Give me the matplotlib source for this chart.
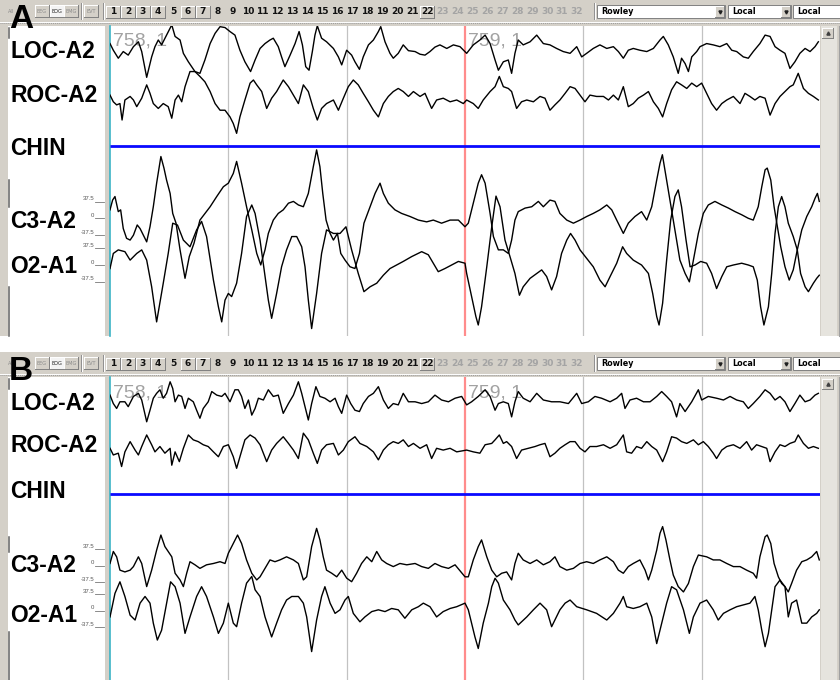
import matplotlib
matplotlib.use("Agg")
import matplotlib.pyplot as plt
from matplotlib.patches import Rectangle
from matplotlib.transforms import blended_transform_factory

# ------------------------------------------------------------------
# Sleep-study page 758 (30 s), shown twice (A: raw, B: filtered).
# Times in seconds from page start, amplitudes in microvolts.
# ------------------------------------------------------------------
PAGE_SECONDS = 30
grid_seconds = [5, 10, 20, 25]
epoch_mark_seconds = 15
epoch_labels = ["758, 1", "759, 1"]
epoch_label_seconds = [0, 15]
channel_names = ["LOC-A2", "ROC-A2", "CHIN", "C3-A2", "O2-A1"]
scale_ticks_uv = [37.5, 0, -37.5]
scale_tick_labels = ["37.5", "0", "-37.5"]
page_buttons = list(range(1, 33))
montage_names = ["Rowley", "Local", "Local"]
filter_buttons = ["All", "EEG", "EOG", "EMG", "EVT"]

chin_a = [(0, 0), (30, 0)]
chin_b = [(0, 0), (30, 0)]

loc_a = [(0.00,10),(0.14,-5),(0.35,-23),(0.56,-8),(0.77,-16),(0.99,3),(1.20,14),(1.34,-8),(1.55,-66),(1.76,-20),(1.90,3),(2.04,18),(2.18,7),(2.39,29),(2.61,52),(2.75,26),(2.96,18),(3.10,-12),(3.31,-31),(3.59,-53),(3.80,-57),(4.01,-27),(4.23,10),(4.44,33),(4.65,48),(4.86,46),(5.07,37),(5.28,29),(5.49,-5),(5.70,-31),(5.94,-53),(6.13,-27),(6.34,-1),(6.55,10),(6.76,18),(6.90,22),(7.11,3),(7.25,-20),(7.39,-42),(7.61,-16),(7.82,10),(7.99,37),(8.13,7),(8.27,-42),(8.41,-50),(8.55,-8),(8.66,29),(8.76,50),(8.94,22),(9.15,14),(9.44,-1),(9.65,-20),(9.79,-38),(10.00,-5),(10.21,-16),(10.35,-31),(10.54,-48),(10.70,-20),(10.92,7),(11.13,18),(11.34,37),(11.44,48),(11.62,14),(11.83,-12),(11.97,-23),(12.18,-12),(12.39,7),(12.61,-6),(12.89,-8),(13.10,-14),(13.31,-16),(13.52,-8),(13.73,2),(13.94,7),(14.23,-1),(14.51,7),(14.79,3),(15.07,-12),(15.35,7),(15.63,18),(15.85,29),(16.06,10),(16.27,-27),(16.41,-50),(16.62,-31),(16.83,-27),(16.97,-57),(17.11,-12),(17.25,18),(17.46,7),(17.75,14),(18.03,29),(18.31,10),(18.59,7),(18.87,-1),(19.15,-8),(19.44,-12),(19.72,3),(19.93,-20),(20.14,-12),(20.42,-1),(20.70,7),(20.99,-1),(21.27,3),(21.48,-8),(21.69,-23),(21.90,-5),(22.11,-1),(22.39,-5),(22.68,-8),(22.96,-1),(23.24,18),(23.38,26),(23.59,7),(23.80,-20),(24.01,-57),(24.15,-23),(24.30,-35),(24.44,-53),(24.58,-20),(24.79,-8),(24.93,3),(25.21,10),(25.49,7),(25.77,3),(26.06,10),(26.27,-5),(26.48,-8),(26.76,-20),(26.97,-23),(27.18,-8),(27.46,10),(27.68,29),(27.89,26),(28.10,3),(28.31,-5),(28.52,-12),(28.73,-46),(28.94,-31),(29.15,-12),(29.37,-1),(29.58,-8),(29.79,3),(29.93,14)]

roc_a = [(0.00,11),(0.14,-4),(0.28,-11),(0.42,-8),(0.51,-45),(0.63,0),(0.85,8),(0.99,0),(1.13,-15),(1.34,4),(1.55,34),(1.69,15),(1.83,-8),(2.04,-19),(2.25,-8),(2.46,-15),(2.61,-41),(2.75,0),(2.89,11),(3.03,-4),(3.17,30),(3.38,64),(3.59,64),(3.80,53),(4.01,41),(4.23,19),(4.44,-8),(4.65,-23),(4.86,-23),(5.07,-38),(5.21,-53),(5.35,-75),(5.49,-38),(5.70,0),(5.92,38),(6.06,45),(6.20,34),(6.41,19),(6.62,-19),(6.83,4),(7.04,19),(7.32,45),(7.54,30),(7.75,11),(7.96,-8),(8.17,34),(8.38,19),(8.59,-19),(8.76,-45),(8.94,-19),(9.15,-8),(9.44,0),(9.65,-23),(9.86,4),(10.07,30),(10.28,45),(10.49,34),(10.70,15),(10.92,-4),(11.13,-23),(11.34,-38),(11.55,-8),(11.76,8),(11.97,19),(12.18,26),(12.39,19),(12.61,8),(12.82,19),(13.10,8),(13.31,15),(13.59,-19),(13.80,0),(14.08,4),(14.37,-4),(14.65,0),(14.93,-8),(15.07,0),(15.35,-8),(15.56,-19),(15.77,0),(16.06,19),(16.27,30),(16.45,53),(16.62,30),(16.83,26),(16.97,19),(17.18,-19),(17.39,-4),(17.61,0),(17.89,-4),(18.17,8),(18.38,4),(18.59,-23),(18.80,-11),(19.01,0),(19.23,15),(19.44,30),(19.65,26),(19.86,11),(20.07,-4),(20.28,11),(20.56,8),(20.85,8),(21.06,0),(21.27,11),(21.48,0),(21.69,30),(21.90,-15),(22.11,-8),(22.32,4),(22.54,11),(22.75,19),(22.96,-4),(23.17,-19),(23.35,-38),(23.52,-8),(23.73,23),(23.94,41),(24.15,34),(24.37,26),(24.58,38),(24.79,30),(25.00,38),(25.21,15),(25.42,-8),(25.63,-23),(25.85,-8),(26.06,0),(26.34,8),(26.62,-8),(26.83,15),(27.04,8),(27.25,0),(27.46,8),(27.68,4),(27.89,-34),(28.10,-8),(28.31,8),(28.52,19),(28.73,30),(28.87,34),(29.08,60),(29.30,26),(29.51,15),(29.72,8),(29.93,0)]

c3_a = [(0.00,19),(0.11,41),(0.21,49),(0.35,15),(0.45,19),(0.56,-23),(0.70,-45),(0.85,-49),(0.99,-38),(1.15,-15),(1.27,-23),(1.41,-38),(1.55,-53),(1.69,-19),(1.83,26),(1.97,79),(2.15,139),(2.28,113),(2.39,86),(2.54,56),(2.65,11),(2.79,-11),(2.96,-71),(3.17,-135),(3.35,-86),(3.55,-56),(3.80,-4),(4.23,26),(4.51,49),(4.79,71),(5.00,79),(5.21,101),(5.35,128),(5.56,79),(5.77,26),(5.99,-26),(6.20,-79),(6.37,-105),(6.55,-71),(6.69,-34),(6.90,-4),(7.11,11),(7.32,19),(7.54,34),(7.75,38),(7.96,30),(8.17,26),(8.38,56),(8.59,116),(8.73,154),(8.87,116),(8.99,56),(9.13,-4),(9.30,-34),(9.44,-49),(9.61,-34),(9.75,-79),(9.93,-94),(10.14,-109),(10.35,-113),(10.54,-79),(10.73,-11),(10.99,26),(11.20,56),(11.41,79),(11.55,56),(11.76,34),(12.04,19),(12.32,11),(12.68,4),(13.03,-4),(13.38,-8),(13.66,-4),(14.01,-11),(14.37,-4),(14.72,-4),(15.00,-19),(15.14,-11),(15.35,34),(15.56,79),(15.70,98),(15.85,79),(16.06,11),(16.20,-41),(16.41,-71),(16.62,-71),(16.83,-79),(16.97,-49),(17.11,-4),(17.25,15),(17.54,23),(17.82,26),(18.10,38),(18.31,26),(18.59,41),(18.80,38),(19.01,11),(19.30,-4),(19.58,-11),(19.86,-4),(20.14,4),(20.42,11),(20.70,19),(20.99,30),(21.20,19),(21.41,-4),(21.69,-34),(21.90,-11),(22.18,4),(22.46,15),(22.68,-4),(22.89,26),(23.10,86),(23.24,124),(23.34,143),(23.52,86),(23.80,-4),(24.08,-94),(24.30,-124),(24.48,-143),(24.65,-94),(24.86,-34),(25.07,11),(25.28,30),(25.56,38),(25.85,30),(26.13,23),(26.41,15),(26.69,8),(26.97,0),(27.18,-4),(27.39,26),(27.54,71),(27.68,109),(27.77,113),(27.92,86),(28.06,26),(28.20,-19),(28.34,-64),(28.52,-109),(28.70,-139),(28.87,-116),(29.04,-71),(29.23,-26),(29.44,4),(29.65,26),(29.79,45),(29.89,56),(29.97,38)]

o2_a = [(0.00,-8),(0.14,26),(0.35,34),(0.63,30),(0.85,11),(1.13,26),(1.34,34),(1.55,11),(1.76,-49),(1.97,-128),(2.25,-41),(2.46,26),(2.65,94),(2.85,90),(3.10,56),(3.38,41),(3.66,79),(3.87,98),(4.08,64),(4.37,-34),(4.58,-94),(4.72,-128),(4.86,-79),(5.00,-64),(5.14,-71),(5.35,-41),(5.56,26),(5.77,109),(5.99,135),(6.13,116),(6.34,56),(6.55,-26),(6.69,-79),(6.83,-120),(7.04,-64),(7.25,-4),(7.46,34),(7.68,64),(7.89,64),(8.10,41),(8.24,-4),(8.38,-79),(8.52,-143),(8.73,-64),(8.94,26),(9.15,79),(9.44,71),(9.72,71),(9.97,86),(10.21,34),(10.49,-19),(10.73,-60),(10.99,-49),(11.27,-41),(11.55,-23),(11.83,-8),(12.11,0),(12.39,8),(12.75,19),(13.17,30),(13.45,23),(13.66,4),(13.87,-15),(14.15,-8),(14.44,0),(14.72,8),(15.00,4),(15.07,-19),(15.28,-71),(15.46,-116),(15.56,-135),(15.70,-94),(15.92,-4),(16.13,86),(16.31,155),(16.48,131),(16.69,56),(16.90,19),(17.11,-19),(17.30,-68),(17.46,-49),(17.75,-30),(18.03,-19),(18.24,-11),(18.45,-26),(18.66,-56),(18.87,-26),(19.08,26),(19.30,56),(19.46,71),(19.65,56),(19.86,34),(20.14,15),(20.42,-4),(20.70,-34),(20.92,-49),(21.13,-26),(21.41,4),(21.66,41),(21.83,26),(22.11,11),(22.46,0),(22.75,-19),(22.93,-64),(23.10,-116),(23.20,-135),(23.35,-86),(23.52,11),(23.69,101),(23.87,154),(24.01,169),(24.15,131),(24.34,56),(24.51,-4),(24.72,0),(24.96,8),(25.21,4),(25.42,-19),(25.63,-53),(25.85,-26),(26.06,-4),(26.34,0),(26.69,4),(26.97,0),(27.18,-4),(27.35,-34),(27.49,-94),(27.63,-135),(27.82,-94),(27.96,-19),(28.10,71),(28.24,131),(28.38,154),(28.52,131),(28.66,94),(28.87,64),(29.04,34),(29.18,-19),(29.37,-49),(29.51,-60),(29.72,-41),(29.86,-30),(29.97,-23)]

loc_b = [(0.00,11),(0.14,-8),(0.28,-19),(0.42,-4),(0.63,-4),(0.77,-15),(0.99,8),(1.20,15),(1.34,0),(1.55,-49),(1.69,-23),(1.83,4),(1.97,15),(2.11,23),(2.25,4),(2.39,15),(2.54,41),(2.65,26),(2.75,-4),(2.89,11),(3.03,8),(3.17,-19),(3.31,4),(3.52,-4),(3.66,-23),(3.80,-41),(3.94,-19),(4.15,-4),(4.30,19),(4.51,11),(4.72,8),(4.86,15),(5.07,-4),(5.28,23),(5.42,23),(5.56,8),(5.70,-19),(5.85,0),(5.99,-34),(6.13,-19),(6.27,4),(6.48,0),(6.69,23),(6.90,8),(7.11,11),(7.32,-30),(7.54,-8),(7.75,11),(7.96,41),(8.10,15),(8.24,-15),(8.38,-45),(8.52,-8),(8.70,30),(8.87,8),(9.08,4),(9.30,-4),(9.51,4),(9.65,-15),(9.79,-30),(10.00,11),(10.17,-8),(10.35,-23),(10.54,-26),(10.70,-8),(10.92,8),(11.13,15),(11.34,30),(11.55,0),(11.76,-19),(11.97,-8),(12.18,-11),(12.39,15),(12.61,-4),(12.89,-4),(13.17,-8),(13.45,-4),(13.73,11),(14.01,0),(14.30,-4),(14.58,4),(14.86,8),(15.07,-11),(15.28,-4),(15.56,8),(15.85,23),(16.06,8),(16.27,-23),(16.41,-8),(16.62,-4),(16.83,-8),(16.97,-38),(17.11,-4),(17.25,19),(17.46,4),(17.75,-4),(18.03,15),(18.31,0),(18.66,-4),(19.01,-4),(19.37,-8),(19.72,15),(19.93,-8),(20.21,-4),(20.49,8),(20.77,4),(21.13,-4),(21.41,4),(21.62,15),(21.76,-19),(21.97,0),(22.25,4),(22.54,-4),(22.82,-4),(23.10,8),(23.31,19),(23.52,8),(23.73,-4),(23.94,-38),(24.08,-8),(24.30,-26),(24.58,-4),(24.86,23),(25.00,0),(25.28,8),(25.63,4),(25.92,0),(26.20,8),(26.48,0),(26.76,-4),(26.97,-19),(27.18,-8),(27.46,8),(27.68,23),(27.89,15),(28.10,0),(28.31,8),(28.52,-4),(28.73,-26),(28.94,-8),(29.15,11),(29.37,-4),(29.58,0),(29.79,11),(29.93,15)]

roc_b = [(0.00,0),(0.14,-15),(0.35,-11),(0.49,-41),(0.63,-8),(0.85,15),(1.06,-4),(1.20,-15),(1.34,4),(1.55,30),(1.76,8),(1.90,-8),(2.11,4),(2.32,-11),(2.54,0),(2.61,-38),(2.75,-8),(2.93,-30),(3.10,0),(3.31,30),(3.52,19),(3.73,15),(3.94,8),(4.15,4),(4.37,-8),(4.58,-19),(4.79,4),(5.00,8),(5.21,-19),(5.35,-45),(5.49,-19),(5.70,19),(5.92,30),(6.13,23),(6.34,8),(6.62,-30),(6.83,-4),(7.04,11),(7.32,26),(7.54,11),(7.75,-4),(7.96,-23),(8.17,34),(8.38,19),(8.59,-11),(8.76,-34),(8.94,-4),(9.15,8),(9.44,11),(9.65,-15),(9.86,-4),(10.07,15),(10.35,26),(10.56,11),(10.85,4),(11.13,-8),(11.34,-26),(11.55,-4),(11.76,8),(11.97,15),(12.18,11),(12.39,19),(12.61,4),(12.82,11),(13.10,0),(13.38,8),(13.59,-23),(13.80,0),(14.08,-4),(14.37,0),(14.65,-8),(15.07,-4),(15.35,-8),(15.63,-11),(15.85,8),(16.13,11),(16.27,19),(16.45,30),(16.62,11),(16.76,15),(16.97,4),(17.18,-23),(17.39,-4),(17.68,0),(17.96,4),(18.17,8),(18.38,11),(18.59,-19),(18.80,-11),(19.01,0),(19.23,8),(19.44,15),(19.65,15),(19.86,0),(20.07,-8),(20.28,4),(20.56,4),(20.85,8),(21.13,0),(21.41,8),(21.69,30),(21.83,-8),(22.04,-11),(22.25,4),(22.46,0),(22.68,15),(22.89,4),(23.10,-4),(23.35,-30),(23.52,-8),(23.73,26),(23.94,23),(24.15,15),(24.37,11),(24.65,19),(24.86,8),(25.07,15),(25.28,4),(25.49,-11),(25.63,-23),(25.85,-4),(26.06,4),(26.34,8),(26.62,0),(26.90,15),(27.11,-4),(27.32,8),(27.54,4),(27.75,0),(27.89,-30),(28.10,-8),(28.31,8),(28.52,4),(28.73,11),(28.94,15),(29.08,30),(29.30,11),(29.51,0),(29.72,4),(29.93,0)]

c3_b = [(0.00,5),(0.14,32),(0.28,20),(0.42,-10),(0.63,-14),(0.85,-10),(0.99,-2),(1.20,20),(1.34,5),(1.55,-47),(1.76,-10),(1.97,35),(2.15,69),(2.32,43),(2.46,32),(2.61,20),(2.75,-17),(2.96,-32),(3.10,-47),(3.24,-17),(3.38,9),(3.59,2),(3.80,-6),(4.08,2),(4.37,5),(4.65,9),(4.86,5),(5.00,28),(5.21,50),(5.39,69),(5.56,50),(5.77,13),(5.99,-17),(6.20,-32),(6.34,-25),(6.55,-6),(6.76,13),(6.97,9),(7.18,13),(7.46,20),(7.75,13),(7.96,5),(8.17,-32),(8.31,-25),(8.52,43),(8.73,84),(8.87,58),(9.01,20),(9.15,-10),(9.37,-17),(9.58,-25),(9.79,-10),(10.00,-28),(10.21,-36),(10.42,-17),(10.63,5),(10.85,20),(11.06,9),(11.27,32),(11.48,13),(11.69,5),(11.97,-2),(12.25,5),(12.54,2),(12.89,5),(13.17,-2),(13.45,-6),(13.73,5),(14.01,-2),(14.30,-6),(14.58,2),(15.00,-25),(15.14,-25),(15.35,13),(15.56,43),(15.70,58),(15.92,20),(16.13,-10),(16.34,-25),(16.55,-17),(16.76,-14),(16.97,-32),(17.11,5),(17.25,28),(17.46,13),(17.75,5),(18.03,13),(18.31,2),(18.59,9),(18.80,20),(19.01,-2),(19.30,-10),(19.58,-6),(19.86,5),(20.14,9),(20.42,5),(20.70,13),(20.99,20),(21.27,9),(21.48,-10),(21.69,-17),(21.90,-2),(22.11,5),(22.39,13),(22.61,-10),(22.75,-32),(22.89,-10),(23.10,35),(23.24,73),(23.35,88),(23.49,58),(23.66,13),(23.80,-21),(24.01,-47),(24.23,-59),(24.44,-40),(24.65,-2),(24.86,24),(25.21,20),(25.49,13),(25.77,13),(26.06,5),(26.34,-2),(26.62,-2),(26.90,-10),(27.18,-17),(27.32,-28),(27.46,20),(27.68,65),(27.77,69),(27.92,50),(28.06,5),(28.24,-25),(28.38,-40),(28.52,-47),(28.66,-59),(28.80,-40),(29.01,-10),(29.23,9),(29.44,13),(29.65,20),(29.86,32),(29.97,13)]

o2_b = [(0.00,-14),(0.21,39),(0.42,65),(0.63,32),(0.85,-10),(1.06,-21),(1.27,17),(1.48,32),(1.69,17),(1.83,-28),(2.00,-66),(2.18,-44),(2.39,17),(2.56,65),(2.75,54),(2.96,17),(3.17,-51),(3.38,-14),(3.66,32),(3.87,54),(4.08,32),(4.37,-14),(4.58,-51),(4.79,-28),(5.00,17),(5.21,-28),(5.35,-36),(5.56,17),(5.77,62),(5.99,77),(6.13,47),(6.34,32),(6.55,-14),(6.83,-59),(7.04,-28),(7.25,2),(7.46,24),(7.68,32),(7.96,32),(8.17,17),(8.31,-14),(8.52,-92),(8.73,-21),(8.94,32),(9.08,54),(9.30,17),(9.51,-6),(9.72,2),(9.93,24),(10.07,32),(10.28,-6),(10.56,-25),(10.77,-14),(11.06,-2),(11.34,2),(11.62,-2),(11.90,5),(12.18,2),(12.46,-17),(12.75,2),(13.03,9),(13.24,17),(13.52,9),(13.80,-14),(14.08,-2),(14.37,5),(14.65,9),(15.00,17),(15.14,2),(15.28,-28),(15.42,-59),(15.56,-85),(15.77,-28),(15.99,17),(16.13,54),(16.27,73),(16.41,62),(16.62,24),(16.90,2),(17.11,-21),(17.25,-32),(17.61,-14),(17.89,2),(18.17,17),(18.45,2),(18.66,-36),(19.01,2),(19.23,17),(19.44,24),(19.72,9),(20.14,2),(20.56,-6),(20.99,-21),(21.27,-6),(21.55,17),(21.69,32),(21.83,9),(22.11,5),(22.39,9),(22.68,17),(22.89,-14),(23.10,-74),(23.31,-28),(23.52,17),(23.73,54),(23.94,47),(24.23,2),(24.48,-51),(24.65,-14),(24.93,17),(25.21,24),(25.49,2),(25.70,-21),(25.92,-6),(26.20,2),(26.48,9),(26.76,13),(27.04,17),(27.25,32),(27.39,2),(27.54,-44),(27.68,-81),(27.82,-51),(27.96,2),(28.10,54),(28.31,69),(28.52,54),(28.66,-14),(28.80,17),(29.01,24),(29.23,-28),(29.44,-28),(29.65,-14),(29.86,-6),(29.97,2)]

# ------------------------------------------------------------------
# Window layout (pixel units of the 840 x 680 canvas)
# ------------------------------------------------------------------
UV_PER_PX = 37.5 / (50 / 3)          # display gain: 37.5 uV per 16.7 px
WIN = "#d4d0c8"
TRACE_FONT = "Liberation Sans"

panels = [
    dict(letter="A", top=0, bottom=336, plot_top=26,
         label_baselines=[58.3, 101.7, 155, 228.3, 273.3],
         channel_rows=[48, 100, 145.7, 218.3, 265],
         series=[loc_a, roc_a, chin_a, c3_a, o2_a],
         marks=[(28, 38), (180, 207), (287, 336)]),
    dict(letter="B", top=352, bottom=680, plot_top=377,
         label_baselines=[410, 452, 498, 571.7, 621.7],
         channel_rows=[400, 448.3, 494.3, 565.7, 610.7],
         series=[loc_b, roc_b, chin_b, c3_b, o2_b],
         marks=[(379, 389), (537, 552), (632, 680)]),
]

fig = plt.figure(figsize=(8.4, 6.8), dpi=100)
fig.patch.set_facecolor("white")
bg = fig.add_axes([0, 0, 1, 1])
bg.set_xlim(0, 840)
bg.set_ylim(680, 0)
bg.axis("off")


def raised_box(x, y, w, h, face=WIN, zorder=3):
    bg.add_patch(Rectangle((x, y), w, h, fc=face, ec="none", zorder=zorder))
    bg.plot([x, x + w], [y, y], color="white", lw=0.7, zorder=zorder + 0.1)
    bg.plot([x, x], [y, y + h], color="white", lw=0.7, zorder=zorder + 0.1)
    bg.plot([x, x + w], [y + h, y + h], color="#808080", lw=0.7, zorder=zorder + 0.1)
    bg.plot([x + w, x + w], [y, y + h], color="#808080", lw=0.7, zorder=zorder + 0.1)


def draw_toolbar(top):
    cy = top + 11.5
    # filter buttons
    fx = [11, 42, 56.5, 71, 91]
    for name, x in zip(filter_buttons, fx):
        if name != "All":
            face = "#f4f4f4" if name == "EOG" else WIN
            raised_box(x - 7, top + 5, 14, 12, face=face)
        bg.text(x, cy, name, fontsize=3.6, ha="center", va="center",
                color="#202020" if name == "EOG" else "#8a8a8a",
                family="DejaVu Sans", zorder=5)
    for sx in (80.5, 102.5, 593.5):
        bg.plot([sx, sx], [top + 3, top + 19], color="#909090", lw=0.7, zorder=3)
        bg.plot([sx + 1, sx + 1], [top + 3, top + 19], color="white", lw=0.7, zorder=3)
    # page selector
    boxed = {1, 2, 3, 4, 6, 7, 22}
    for i in page_buttons:
        x = 113 + (i - 1) * 14.97
        if i in boxed:
            raised_box(x - 7, top + 5.5, 14, 12)
        bg.text(x, cy, str(i), fontsize=6.5, fontweight="bold", ha="center",
                va="center", family="DejaVu Sans",
                color="#111111" if i <= 22 else "#a4a4a4", zorder=5)
    # montage drop-downs
    boxes = [(597, 128), (728, 63), (793, 50)]
    for name, (x, w) in zip(montage_names, boxes):
        bg.add_patch(Rectangle((x, top + 5), w, 12.5, fc="white", ec="#808080",
                               lw=0.7, zorder=3))
        bg.text(x + 4, cy, name, fontsize=5.8, fontweight="bold", ha="left",
                va="center", family="DejaVu Sans", zorder=5)
        if x + w < 838:
            raised_box(x + w - 10, top + 6, 9, 10.5)
            bg.plot([x + w - 5.5], [cy], marker="v", ms=2.2, color="#202020",
                    zorder=6)


for p in panels:
    top, bottom, ptop = p["top"], p["bottom"], p["plot_top"]

    # window body, toolbar groove, label column, plot canvas, scroll bar
    bg.add_patch(Rectangle((0, top), 840, bottom - top, fc=WIN, ec="none", zorder=0))
    bg.plot([0, 840], [top + 21.5] * 2, color="white", lw=0.7, zorder=1)
    bg.plot([0, 840], [top + 23] * 2, color="#9c9c9c", lw=0.7, ls=(0, (1, 1)), zorder=1)
    bg.add_patch(Rectangle((8, ptop), 97, bottom - ptop, fc="white", ec="none", zorder=1))
    bg.add_patch(Rectangle((110, ptop), 710, bottom - ptop, fc="white", ec="none", zorder=1))
    bg.plot([110, 110], [ptop, bottom], color="#3cb4c6", lw=1.2, zorder=2)
    bg.add_patch(Rectangle((821, ptop), 16, bottom - ptop, fc="#e6e4de", ec="none", zorder=1))
    bg.plot([838.5, 838.5], [ptop, bottom], color="#a0a0a0", lw=0.8, zorder=2)
    raised_box(822, ptop + 2, 11, 10)
    bg.plot([827.5], [ptop + 7.3], marker="^", ms=2.3, color="#404040", zorder=6)
    for y0, y1 in p["marks"]:
        bg.plot([8.7, 8.7], [y0, y1], color="#606060", lw=1.1, zorder=2)

    draw_toolbar(top)

    # channel names
    for name, yb in zip(channel_names, p["label_baselines"]):
        bg.text(10, yb, name, fontsize=16.5, fontweight="bold", family=TRACE_FONT,
                ha="left", va="baseline", color="black", zorder=4)

    # panel letter
    bg.text(9, top + 28, p["letter"], fontsize=24, fontweight="bold",
            family=TRACE_FONT, ha="left", va="baseline", color="black", zorder=8)

    # trace axes: seconds across, microvolts up
    ax = fig.add_axes([110 / 840, (680 - bottom) / 680, 710 / 840, (bottom - ptop) / 680])
    ax.set_xlim(0, PAGE_SECONDS)
    ax.set_ylim(-(bottom - ptop) * UV_PER_PX, 0)
    ax.axis("off")
    ax.patch.set_visible(False)

    for s in grid_seconds:
        ax.axvline(s, color="#c2c2c2", lw=0.9, zorder=1)
    ax.axvline(epoch_mark_seconds, color="#ff8c8c", lw=1.6, zorder=1)

    x_px_y_data = blended_transform_factory(bg.transData, ax.transData)
    x_data_y_px = blended_transform_factory(ax.transData, bg.transData)

    for lbl, s in zip(epoch_labels, epoch_label_seconds):
        ax.text(s + 0.12, top + 45, lbl, transform=x_data_y_px, fontsize=14,
                family=TRACE_FONT, color="#a2a2a2", ha="left", va="baseline",
                zorder=1.5)

    for name, row, series in zip(channel_names, p["channel_rows"], p["series"]):
        offset = -(row - ptop) * UV_PER_PX
        t = [pt[0] for pt in series]
        v = [offset + pt[1] for pt in series]
        if name == "CHIN":
            ax.plot(t, v, color="#0a0aff", lw=2.0, zorder=2,
                    solid_capstyle="butt")
        else:
            ax.plot(t, v, color="black", lw=1.0, zorder=3)
        if name in ("C3-A2", "O2-A1"):
            for tick, tl in zip(scale_ticks_uv, scale_tick_labels):
                y = offset + tick
                ax.plot([94.5, 104], [y, y], transform=x_px_y_data, color="#777777",
                        lw=0.6, clip_on=False)
                ax.text(94.5, y + 0.5, tl, transform=x_px_y_data, fontsize=4.3,
                        family=TRACE_FONT, color="#555555", ha="right",
                        va="bottom", clip_on=False)

fig.savefig("out.png", dpi=100, facecolor="white")
